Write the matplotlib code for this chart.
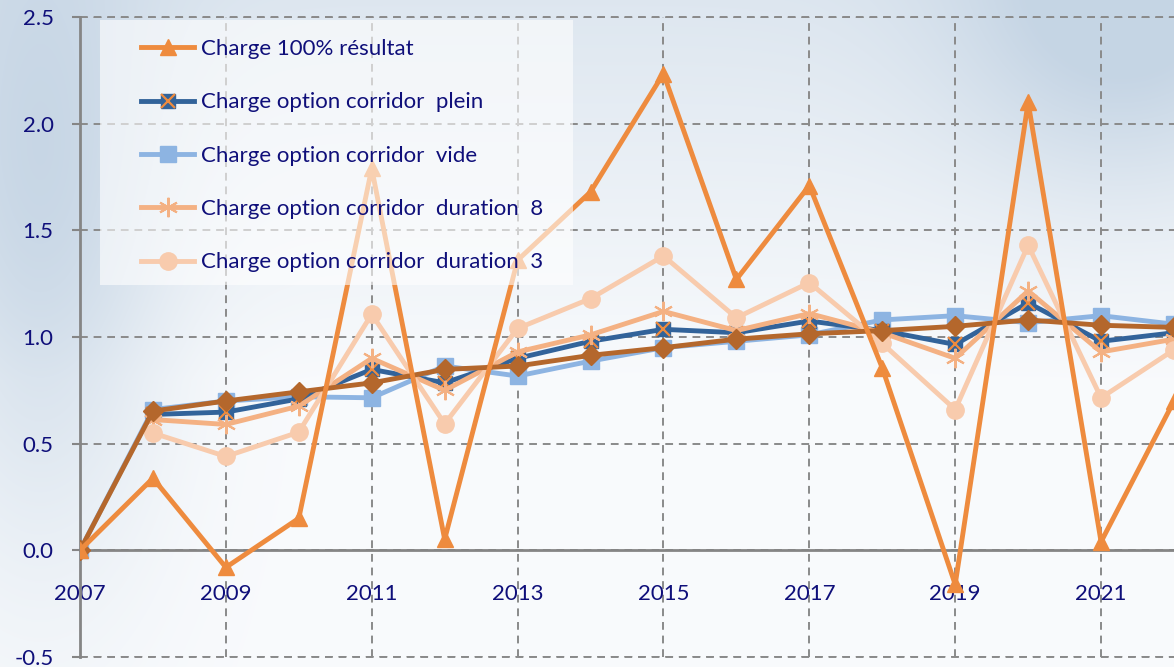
import numpy as np
import matplotlib
matplotlib.use("Agg")
import matplotlib.pyplot as plt
from matplotlib.patches import Rectangle
from matplotlib.legend_handler import HandlerTuple
from matplotlib.lines import Line2D

plt.rcParams['font.family'] = ['Lato', 'DejaVu Sans']

years = list(range(2007, 2023))
nan = np.nan
charge_100 = [0.0, 0.338, -0.08, 0.15, 1.79, 0.052, 1.36, 1.68, 2.235, 1.27, 1.71, 0.855, -0.16, 2.10, 0.04, 0.70]
corridor_plein = [nan, 0.637, 0.648, 0.71, 0.848, 0.785, 0.90, 0.98, 1.036, 1.02, 1.075, 1.03, 0.965, 1.16, 0.98, 1.02]
corridor_vide = [0.0, 0.66, 0.70, 0.72, 0.715, 0.864, 0.817, 0.887, 0.95, 0.98, 1.01, 1.08, 1.10, 1.067, 1.10, 1.06]
duration_8 = [nan, 0.613, 0.59, 0.676, 0.90, 0.75, 0.93, 1.01, 1.12, 1.03, 1.11, 1.02, 0.90, 1.216, 0.93, 0.99]
duration_3 = [nan, 0.55, 0.44, 0.554, 1.107, 0.593, 1.04, 1.18, 1.38, 1.09, 1.255, 0.97, 0.66, 1.43, 0.715, 0.94]
charge_lissee = [0.0, 0.653, 0.70, 0.743, 0.785, 0.848, 0.864, 0.914, 0.95, 0.99, 1.015, 1.03, 1.05, 1.08, 1.055, 1.045]

labels = ["Charge 100% résultat", "Charge option corridor  plein", "Charge option corridor  vide",
          "Charge option corridor  duration  8", "Charge option corridor  duration  3"]
x_ticks = [2007, 2009, 2011, 2013, 2015, 2017, 2019, 2021]
y_ticks = [-0.5, 0.0, 0.5, 1.0, 1.5, 2.0, 2.5]

C_ORANGE = '#EE8B3E'
C_DBLUE = '#32639A'
C_LBLUE = '#8DB4E2'
C_SALMON = '#F4B183'
C_PEACH = '#F8CBAD'
C_BROWN = '#B4672C'
C_TEXT = '#0F0F7A'
C_GRID = '#8A8A8A'

W, H = 1174, 667
fig = plt.figure(figsize=(W / 100, H / 100), dpi=100)

# soft background
yy, xx = np.mgrid[0:H, 0:W]
base = np.ones((H, W, 3)) * np.array([0.975, 0.982, 0.99])
blue = np.array([0.74, 0.81, 0.88])
w1 = np.clip(1 - yy / 380.0, 0, 1) * 0.45
w2 = np.exp(-((xx - 40) ** 2) / (2 * 90.0 ** 2) - ((yy - 250) ** 2) / (2 * 220.0 ** 2)) * 0.6
w3 = np.exp(-((xx - 1120) ** 2) / (2 * 120.0 ** 2) - ((yy - 20) ** 2) / (2 * 120.0 ** 2)) * 0.55
w = np.clip(w1 + w2 + w3, 0, 0.85)[..., None]
img = base * (1 - w) + blue * w
bg = fig.add_axes([0, 0, 1, 1], zorder=-5)
bg.imshow(img, aspect='auto', extent=[0, 1, 0, 1])
bg.axis('off')

ax = fig.add_axes([80 / W, 1 - 657 / H, (W - 80) / W, (657 - 17) / H])
ax.set_facecolor('none')
ax.set_xlim(2007, 2022)
ax.set_ylim(-0.5, 2.5)

lw = 3.5
ax.plot(years, corridor_vide, color=C_LBLUE, lw=lw, marker='s', ms=11.5, mec=C_LBLUE, zorder=3)
ax.plot(years, corridor_plein, color=C_DBLUE, lw=lw, marker='s', ms=9.5, mec=C_DBLUE, zorder=4)
ax.plot(years, corridor_plein, ls='none', marker='x', ms=9.5, mew=1.6, color=C_ORANGE, zorder=4.1)
ax.plot(years, duration_8, color=C_SALMON, lw=lw, marker=(6, 2, 0), ms=14, mew=1.5, zorder=5)
ax.plot(years, duration_3, color=C_PEACH, lw=lw, marker='o', ms=12.5, zorder=6)
ax.plot(years, charge_lissee, color=C_BROWN, lw=lw, marker='D', ms=10.5, zorder=7)
ax.plot(years, charge_100, color=C_ORANGE, lw=lw, marker='^', ms=11.5, zorder=8)

# axes styling
for s in ['top', 'right']:
    ax.spines[s].set_visible(False)
ax.spines['bottom'].set_position(('data', 0))
ax.spines['bottom'].set_color('#858585')
ax.spines['bottom'].set_linewidth(2)
ax.spines['left'].set_color('#858585')
ax.spines['left'].set_linewidth(2)
ax.spines['bottom'].set_zorder(2.5)

ax.set_xticks(x_ticks)
ax.set_xticklabels([str(t) for t in x_ticks])
ax.set_yticks(y_ticks)
ax.set_yticklabels([f"{t:.1f}" for t in y_ticks])
ax.tick_params(axis='x', length=0, pad=24, labelsize=16, labelcolor=C_TEXT)
ax.tick_params(axis='y', length=6, width=1.5, color='#858585', pad=13, labelsize=16, labelcolor=C_TEXT)

ax.grid(True, color=C_GRID, ls=(0, (4, 3)), lw=1.4, zorder=1)
ax.set_axisbelow(True)
ax.axhline(2.5, color=C_GRID, ls=(0, (4, 3)), lw=1.4, zorder=1, clip_on=False)
ax.axhline(-0.5, color=C_GRID, ls=(0, (4, 3)), lw=1.4, zorder=1, clip_on=False)

# legend box
rect = Rectangle((100 / W, 1 - 285 / H), (573 - 100) / W, (285 - 20) / H, transform=fig.transFigure,
                 facecolor='white', alpha=0.6, edgecolor='none', zorder=20)
ax.add_patch(rect)
rect.set_clip_on(False)

h_orange = Line2D([], [], color=C_ORANGE, lw=lw, marker='^', ms=11.5)
h_plein = (Line2D([], [], color=C_DBLUE, lw=lw, marker='s', ms=9.5),
           Line2D([], [], ls='none', marker='x', ms=9.5, mew=1.6, color=C_ORANGE))
h_vide = Line2D([], [], color=C_LBLUE, lw=lw, marker='s', ms=11.5)
h_d8 = Line2D([], [], color=C_SALMON, lw=lw, marker=(6, 2, 0), ms=14, mew=1.5)
h_d3 = Line2D([], [], color=C_PEACH, lw=lw, marker='o', ms=12.5)
leg = ax.legend([h_orange, h_plein, h_vide, h_d8, h_d3], labels,
                handler_map={tuple: HandlerTuple(ndivide=1, pad=0)},
                loc='upper left', bbox_to_anchor=(141 / W, 1 - 39 / H), bbox_transform=fig.transFigure,
                frameon=False, fontsize=16, labelspacing=1.5, handlelength=2.4, handletextpad=0.3,
                borderpad=0, borderaxespad=0, labelcolor=C_TEXT)
leg.set_zorder(25)

fig.savefig('out.png', dpi=100)
